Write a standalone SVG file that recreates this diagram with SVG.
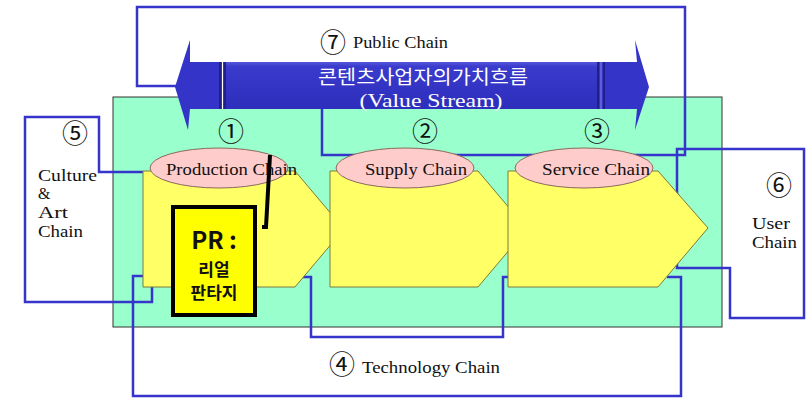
<svg xmlns="http://www.w3.org/2000/svg" width="810" height="398" viewBox="0 0 810 398">
  <defs>
    <linearGradient id="barGrad" x1="0" y1="0" x2="0" y2="1">
      <stop offset="0" stop-color="#5656dc"/>
      <stop offset="0.1" stop-color="#3a3acc"/>
      <stop offset="1" stop-color="#2e2ebc"/>
    </linearGradient>
    <style>
      .conn { fill: none; stroke: #3535cc; stroke-width: 2.5; stroke-linejoin: miter; }
      .chev { fill: #ffff66; stroke: #7a7a3a; stroke-width: 1; }
      .ell { fill: #ffcccc; stroke: #8a6a5a; stroke-width: 1; }
      .lbl { font-family: "Liberation Serif", "Times New Roman", serif; font-size: 16px; fill: #111; }
      .num { font-family: "Noto Sans CJK KR", "DejaVu Sans", sans-serif; font-size: 26px; fill: #111; text-anchor: middle; }
      .kr { font-family: "Noto Sans CJK KR", sans-serif; font-weight: bold; fill: #111; text-anchor: middle; }
    </style>
  </defs>
  <rect width="810" height="398" fill="#ffffff"/>

  <!-- background panel -->
  <rect id="panel" x="113" y="97" width="609" height="230" fill="#99ffcc" stroke="#333333" stroke-width="1"/>

  <!-- connectors -->
  <g id="connectors">
    <!-- 7 Public chain -->
    <polyline class="conn" points="322,109 322,155 685,155 685,7 137,7 137,86 176,86"/>
    <!-- 5 Culture & Art chain -->
    <polyline class="conn" points="143,172 99,172 99,117 25,117 25,302 152,302 152,287"/>
    <!-- 4 Technology chain -->
    <polyline class="conn" points="143,276 133,276 133,396 681,396 681,277 667,277"/>
    <polyline class="conn" points="300,277 311,277 311,337 503,337 503,277 508,277"/>
    <!-- 6 User chain -->
    <polygon class="conn" points="677,149 804,149 804,318 730,318 730,268 677,268"/>
  </g>

  <!-- value stream double arrow -->
  <g id="value-stream">
    <polygon points="190,62 190,40 175,87 188,130 190,109 637,109 635,130 649,87 635,40 637,62" fill="#3434c8"/>
    <rect x="226" y="62" width="371" height="47" fill="url(#barGrad)"/>
    <line x1="220" y1="62" x2="220" y2="109" stroke="#1a1a70" stroke-width="1.5"/>
    <line x1="222.5" y1="62" x2="222.5" y2="109" stroke="#ffffff" stroke-width="1"/>
    <line x1="225" y1="62" x2="225" y2="109" stroke="#1a1a70" stroke-width="1.5"/>
    <line x1="598" y1="62" x2="598" y2="109" stroke="#1a1a70" stroke-width="1.5"/>
    <line x1="601" y1="62" x2="601" y2="109" stroke="#8888ee" stroke-width="1"/>
    <line x1="604" y1="62" x2="604" y2="109" stroke="#1a1a70" stroke-width="1.5"/>
    <text x="423" y="84" font-family="Noto Sans CJK KR, sans-serif" font-size="19" fill="#ffffff" text-anchor="middle" textLength="210" lengthAdjust="spacingAndGlyphs">콘텐츠사업자의가치흐름</text>
    <text x="431" y="107" font-family="Liberation Serif, Times New Roman, serif" font-size="19" fill="#ffffff" text-anchor="middle" textLength="143" lengthAdjust="spacingAndGlyphs">(Value Stream)</text>
  </g>

  <!-- 1 Production chain -->
  <g id="production-chain">
    <polygon class="chev" points="143,171 295,171 344,229 295,287 143,287"/>
    <ellipse class="ell" cx="219" cy="168" rx="69" ry="20"/>
    <text class="lbl" x="166" y="175" textLength="131" lengthAdjust="spacingAndGlyphs">Production Chain</text>
    <text class="num" x="231" y="141">①</text>
  </g>

  <!-- 2 Supply chain -->
  <g id="supply-chain">
    <polygon class="chev" points="330,171 478,171 527,229 478,287 330,287"/>
    <ellipse class="ell" cx="405" cy="168" rx="69" ry="20"/>
    <text class="lbl" x="365" y="175" textLength="102" lengthAdjust="spacingAndGlyphs">Supply Chain</text>
    <text class="num" x="425" y="141">②</text>
  </g>

  <!-- 3 Service chain -->
  <g id="service-chain">
    <polygon class="chev" points="508,171 658,171 708,228 658,287 508,287"/>
    <ellipse class="ell" cx="584" cy="168" rx="69" ry="20"/>
    <text class="lbl" x="542" y="175" textLength="108" lengthAdjust="spacingAndGlyphs">Service Chain</text>
    <text class="num" x="597" y="141">③</text>
  </g>

  <!-- PR box -->
  <g id="pr-box">
    <rect x="173" y="207" width="82" height="108" fill="#ffff00" stroke="#000000" stroke-width="4"/>
    <text class="kr" x="214" y="249" font-size="24">PR :</text>
    <text class="kr" x="214" y="276" font-size="17">리얼</text>
    <text class="kr" x="214" y="299" font-size="17">판타지</text>
    <polyline points="270,155 266,227 262,227" fill="none" stroke="#000000" stroke-width="4"/>
  </g>

  <!-- 5 Culture & Art chain label -->
  <g id="culture-chain">
    <text class="num" x="75" y="143">⑤</text>
    <text class="lbl" x="38" y="181" textLength="59" lengthAdjust="spacingAndGlyphs">Culture</text>
    <text class="lbl" x="38" y="199">&amp;</text>
    <text class="lbl" x="38" y="218" textLength="30" lengthAdjust="spacingAndGlyphs">Art</text>
    <text class="lbl" x="38" y="237" textLength="45" lengthAdjust="spacingAndGlyphs">Chain</text>
  </g>

  <!-- 6 User chain label -->
  <g id="user-chain">
    <text class="num" x="779" y="195">⑥</text>
    <text class="lbl" x="752" y="229" textLength="38" lengthAdjust="spacingAndGlyphs">User</text>
    <text class="lbl" x="752" y="248" textLength="45" lengthAdjust="spacingAndGlyphs">Chain</text>
  </g>

  <!-- 4 Technology chain label -->
  <g id="technology-chain">
    <text class="num" x="342" y="374">④</text>
    <text class="lbl" x="362" y="373" textLength="138" lengthAdjust="spacingAndGlyphs">Technology Chain</text>
  </g>

  <!-- 7 Public chain label -->
  <g id="public-chain">
    <text class="num" x="333" y="52">⑦</text>
    <text class="lbl" x="353" y="48" textLength="95" lengthAdjust="spacingAndGlyphs">Public Chain</text>
  </g>
</svg>
